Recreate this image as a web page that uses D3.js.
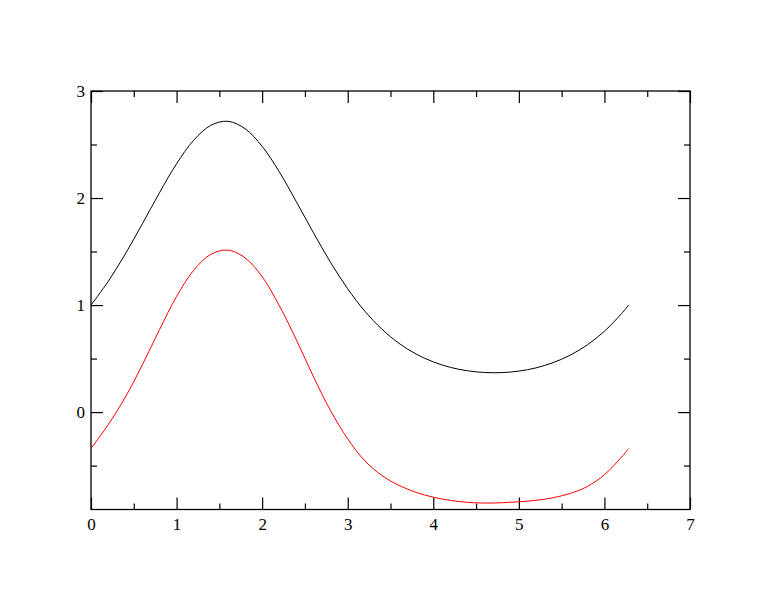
<!DOCTYPE html>
<html>
<head>
<meta charset="utf-8">
<script src="https://cdn.jsdelivr.net/npm/d3@7"></script>
<style>
  html, body { margin: 0; padding: 0; background: #fff; }
  svg { display: block; }
</style>
</head>
<body>
<svg id="chart" width="776" height="600"></svg>
<script>
// ---- data ----
const xValues = [0, 0.2, 0.4, 0.6, 0.8, 1.0, 1.2, 1.4, 1.6, 1.8, 2.0, 2.2, 2.4, 2.6, 2.8, 3.0,
                 3.2, 3.4, 3.6, 3.8, 4.0, 4.2, 4.4, 4.6, 4.8, 5.0, 5.2, 5.4, 5.6, 5.8, 6.0, 6.2, 6.283];
const blackSeries = [1.000, 1.220, 1.476, 1.759, 2.049, 2.320, 2.540, 2.679, 2.717, 2.648, 2.483,
                     2.245, 1.965, 1.675, 1.398, 1.152, 0.943, 0.775, 0.642, 0.542, 0.469, 0.418,
                     0.386, 0.370, 0.369, 0.383, 0.413, 0.462, 0.532, 0.628, 0.756, 0.920, 1.000];
const redSeries = [-0.340, -0.118, 0.138, 0.442, 0.770, 1.080, 1.325, 1.474, 1.513, 1.441, 1.265,
                   0.995, 0.675, 0.330, 0.013, -0.250, -0.455, -0.592, -0.685, -0.750, -0.795, -0.825,
                   -0.843, -0.850, -0.847, -0.838, -0.824, -0.800, -0.760, -0.695, -0.585, -0.420, -0.340];
const xTickLabels = [0, 1, 2, 3, 4, 5, 6, 7];
const xMinorTicks = [0.5, 1.5, 2.5, 3.5, 4.5, 5.5, 6.5];
const yTickLabels = [0, 1, 2, 3];
const yMinorTicks = [-0.5, 0.5, 1.5, 2.5];
const xDomain = [0, 7];
const yDomain = [-0.91, 3];

(function () {
  const pLeft = 91, pTop = 91, pRight = 690, pBottom = 509.5;
  const svg = d3.select("#chart");
  const FONT = '"Liberation Serif", "Times New Roman", serif';
  const FS = 17;

  const x = d3.scaleLinear().domain(xDomain).range([pLeft, pRight]);
  const y = d3.scaleLinear().domain(yDomain).range([pBottom, pTop]);

  const majorLen = 12, minorLen = 6;

  function addAxis(axis, tx, ty) {
    return svg.append("g").attr("transform", `translate(${tx},${ty})`)
      .call(axis)
      .call(g => g.select(".domain").remove())
      .attr("font-size", FS).attr("font-family", FONT);
  }

  addAxis(d3.axisBottom(x).tickValues(xTickLabels).tickSize(-majorLen).tickPadding(8).tickFormat(d3.format("d")), 0, pBottom);
  addAxis(d3.axisBottom(x).tickValues(xMinorTicks).tickSize(-minorLen).tickFormat(""), 0, pBottom);
  addAxis(d3.axisTop(x).tickValues(xTickLabels).tickSize(-majorLen).tickFormat(""), 0, pTop);
  addAxis(d3.axisTop(x).tickValues(xMinorTicks).tickSize(-minorLen).tickFormat(""), 0, pTop);
  addAxis(d3.axisLeft(y).tickValues(yTickLabels).tickSize(-majorLen).tickPadding(6).tickFormat(d3.format("d")), pLeft, 0);
  addAxis(d3.axisLeft(y).tickValues(yMinorTicks).tickSize(-minorLen).tickFormat(""), pLeft, 0);
  addAxis(d3.axisRight(y).tickValues(yTickLabels).tickSize(-majorLen).tickFormat(""), pRight, 0);
  addAxis(d3.axisRight(y).tickValues(yMinorTicks).tickSize(-minorLen).tickFormat(""), pRight, 0);

  svg.selectAll(".tick line").attr("stroke", "#000").attr("stroke-width", 1.2);
  svg.selectAll(".tick text")
    .attr("font-size", FS).attr("font-family", FONT)
    .style("font-size", FS + "px").style("font-family", FONT)
    .attr("fill", "#000");

  svg.append("rect")
    .attr("x", pLeft).attr("y", pTop)
    .attr("width", pRight - pLeft).attr("height", pBottom - pTop)
    .attr("fill", "none").attr("stroke", "#000").attr("stroke-width", 1.3);

  const line = d3.line().x((d, i) => x(xValues[i])).y(d => y(d)).curve(d3.curveCatmullRom.alpha(0.5));
  svg.append("path").datum(blackSeries).attr("d", line)
    .attr("fill", "none").attr("stroke", "#000").attr("stroke-width", 1);
  svg.append("path").datum(redSeries).attr("d", line)
    .attr("fill", "none").attr("stroke", "#ff0000").attr("stroke-width", 1);
})();
</script>
</body>
</html>
